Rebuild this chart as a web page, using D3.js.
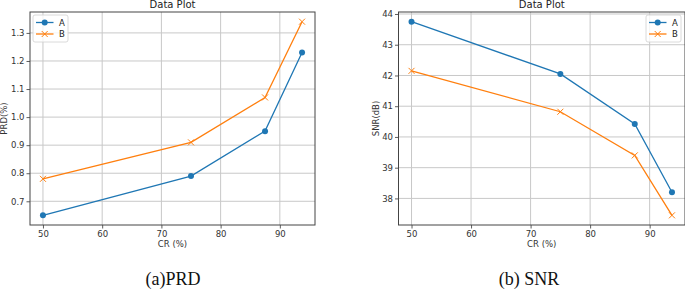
<!DOCTYPE html>
<html>
<head>
<meta charset="utf-8">
<script src="https://cdn.jsdelivr.net/npm/d3@7"></script>
<style>
  body { margin: 0; background: #fff; }
  svg { display: block; }
</style>
</head>
<body>
<svg id="chart" width="685" height="290"></svg>
<script>
// data
var cr = [50, 75, 87.5, 93.75];
var prd_a = [0.65, 0.79, 0.95, 1.23];
var prd_b = [0.78, 0.91, 1.07, 1.34];
var snr_a = [43.75, 42.05, 40.42, 38.2];
var snr_b = [42.15, 40.82, 39.4, 37.45];
var x_ticks = [50, 60, 70, 80, 90];
var prd_ticks = [0.7, 0.8, 0.9, 1.0, 1.1, 1.2, 1.3];
var snr_ticks = [38, 39, 40, 41, 42, 43, 44];
var series_names = ['A', 'B'];
var colors = ['#1f77b4', '#ff7f0e'];

var svg = d3.select('#chart');

function pad_domain(vals)
{
  var lo = d3.min(vals), hi = d3.max(vals), m = (hi - lo) * 0.05;
  return [lo - m, hi + m];
}

function draw_panel(opts)
{
  var x = d3.scaleLinear().domain(pad_domain(cr)).range([opts.left, opts.right]);
  var y = d3.scaleLinear().domain(pad_domain(opts.a.concat(opts.b))).range([opts.bottom, opts.top]);

  var g = svg.append('g');

  // grid
  g.append('g').selectAll('line').data(x_ticks).enter().append('line')
    .attr('x1', d => x(d)).attr('x2', d => x(d))
    .attr('y1', opts.top).attr('y2', opts.bottom)
    .attr('stroke', '#c8c8c8').attr('stroke-width', 1);
  g.append('g').selectAll('line').data(opts.ticks).enter().append('line')
    .attr('y1', d => y(d)).attr('y2', d => y(d))
    .attr('x1', opts.left).attr('x2', opts.right)
    .attr('stroke', '#c8c8c8').attr('stroke-width', 1);

  // axes
  var xa = g.append('g').attr('transform', 'translate(0,' + opts.bottom + ')')
    .call(d3.axisBottom(x).tickValues(x_ticks).tickSize(3.5).tickPadding(2.5).tickFormat(d3.format('d')));
  var ya = g.append('g').attr('transform', 'translate(' + opts.left + ',0)')
    .call(d3.axisLeft(y).tickValues(opts.ticks).tickSize(3.5).tickPadding(2).tickFormat(d3.format(opts.fmt)));
  [xa, ya].forEach(a => {
    a.select('.domain').remove();
    a.selectAll('line').attr('stroke', '#333').attr('stroke-width', 0.8);
    a.selectAll('text').attr('fill', '#333').style('font-family', 'DejaVu Sans').style('font-size', '8.5px');
  });

  // frame
  g.append('rect')
    .attr('x', opts.left).attr('y', opts.top)
    .attr('width', opts.right - opts.left).attr('height', opts.bottom - opts.top)
    .attr('fill', 'none').attr('stroke', '#444').attr('stroke-width', 1);

  // series
  var line = d3.line().x((d, i) => x(cr[i])).y(d => y(d));
  [opts.a, opts.b].forEach((s, k) => {
    g.append('path').datum(s).attr('d', line)
      .attr('fill', 'none').attr('stroke', colors[k]).attr('stroke-width', 1.3);
    if (k === 0)
    {
      g.append('g').selectAll('circle').data(s).enter().append('circle')
        .attr('cx', (d, i) => x(cr[i])).attr('cy', d => y(d)).attr('r', 3)
        .attr('fill', colors[k]);
    }
    else
    {
      g.append('g').selectAll('path').data(s).enter().append('path')
        .attr('transform', (d, i) => 'translate(' + x(cr[i]) + ',' + y(d) + ')')
        .attr('d', 'M-3,-3L3,3M-3,3L3,-3')
        .attr('stroke', colors[k]).attr('stroke-width', 1);
    }
  });

  // title and labels
  var cx = (opts.left + opts.right) / 2;
  g.append('text').text('Data Plot').attr('x', cx).attr('y', 8)
    .attr('text-anchor', 'middle').attr('fill', '#222')
    .style('font-family', 'DejaVu Sans').style('font-size', '10px');
  g.append('text').text('CR (%)').attr('x', cx).attr('y', 247)
    .attr('text-anchor', 'middle').attr('fill', '#333')
    .style('font-family', 'DejaVu Sans').style('font-size', '8.5px');
  g.append('text').text(opts.ylabel)
    .attr('transform', 'translate(' + opts.ylx + ',' + ((opts.top + opts.bottom) / 2) + ') rotate(-90)')
    .attr('text-anchor', 'middle').attr('fill', '#333')
    .style('font-family', 'DejaVu Sans').style('font-size', '8.5px');
  g.append('text').text(opts.caption).attr('x', opts.capx).attr('y', 285)
    .attr('text-anchor', 'middle').attr('fill', '#111')
    .style('font-family', 'Liberation Serif').style('font-size', '18px');

  // legend
  var lg = g.append('g').attr('transform', 'translate(' + opts.legx + ',' + (opts.top + 3) + ')');
  lg.append('rect').attr('x', 0).attr('y', 0).attr('width', 35).attr('height', 27).attr('rx', 2)
    .attr('fill', 'rgba(255,255,255,0.8)').attr('stroke', '#d0d0d0').attr('stroke-width', 0.8);
  series_names.forEach((n, k) => {
    var yy = 7.5 + k * 11.5;
    lg.append('line').attr('x1', 3).attr('x2', 20.5).attr('y1', yy).attr('y2', yy)
      .attr('stroke', colors[k]).attr('stroke-width', 1.3);
    if (k === 0)
      lg.append('circle').attr('cx', 11.7).attr('cy', yy).attr('r', 3).attr('fill', colors[k]);
    else
      lg.append('path').attr('transform', 'translate(11.7,' + yy + ')')
        .attr('d', 'M-3,-3L3,3M-3,3L3,-3').attr('stroke', colors[k]).attr('stroke-width', 1);
    lg.append('text').text(n).attr('x', 26).attr('y', yy + 3)
      .attr('fill', '#222').style('font-family', 'DejaVu Sans').style('font-size', '8.5px');
  });
}

draw_panel({left: 30, right: 315, top: 12, bottom: 225, a: prd_a, b: prd_b,
  ticks: prd_ticks, fmt: '.1f', ylabel: 'PRD(%)', ylx: 7, caption: '(a)PRD', capx: 173, legx: 33});
draw_panel({left: 398.5, right: 685, top: 12, bottom: 225, a: snr_a, b: snr_b,
  ticks: snr_ticks, fmt: 'd', ylabel: 'SNR(dB)', ylx: 379, caption: '(b) SNR', capx: 529, legx: 646});
</script>
</body>
</html>
